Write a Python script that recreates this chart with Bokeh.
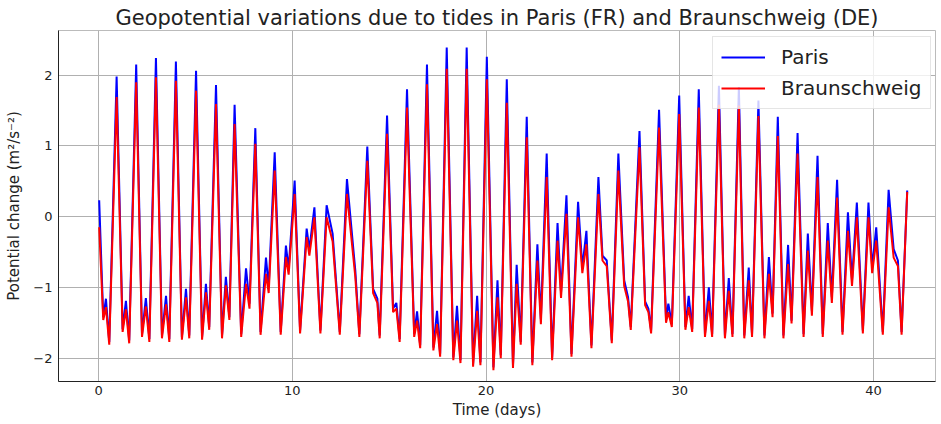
from bokeh.plotting import figure
from bokeh.models import Range1d, FixedTicker, Legend, LegendItem
from bokeh.embed import file_html
from bokeh.resources import INLINE

# ---- data (extremes and shoulders of the tidal curves) ----
time_days = [
    0.03, 0.24, 0.38, 0.55, 0.93, 1.24, 1.41, 1.58, 1.94, 2.24, 2.44, 2.62, 2.96, 3.27, 3.48, 3.65,
    3.99, 4.30, 4.51, 4.68, 5.03, 5.34, 5.54, 5.71, 6.06, 6.37, 6.57, 6.75,
    7.02, 7.36, 7.61, 7.79, 8.09, 8.36, 8.64, 8.78, 9.09, 9.40, 9.67, 9.81, 10.12, 10.40, 10.74, 10.88,
    11.14, 11.45, 11.77, 12.08, 12.45, 12.82, 13.25, 13.46,
    13.87, 14.17, 14.39, 14.51, 14.89, 15.20, 15.37, 15.54, 15.92, 16.29, 16.44, 16.60, 16.95, 17.28,
    17.47, 17.63, 17.97, 18.31, 18.50, 18.68, 19.00, 19.33, 19.54, 19.71, 20.04, 20.38, 20.59, 20.76,
    21.07, 21.39, 21.58, 21.79, 22.10, 22.39, 22.65, 22.83, 23.13, 23.41, 23.69, 23.87, 24.15, 24.41,
    24.75, 24.97, 25.18, 25.44, 25.80, 26.01, 26.23, 26.49, 26.83, 27.13, 27.33, 27.47,
    27.92, 28.21, 28.38, 28.52, 28.93, 29.29, 29.41, 29.59, 29.97, 30.29, 30.46, 30.64, 30.98, 31.30,
    31.50, 31.67, 32.02, 32.33, 32.53, 32.72, 33.05, 33.33, 33.56, 33.73, 34.06, 34.37, 34.60, 34.79,
    35.06, 35.35, 35.59, 35.77, 36.08, 36.39, 36.61, 36.82, 37.11, 37.38, 37.64, 37.85, 38.12, 38.40,
    38.68, 38.89, 39.14, 39.45, 39.74, 39.93, 40.14, 40.48, 40.78, 41.04, 41.26, 41.45, 41.74,
]

paris = [
    0.23, -1.42, -1.16, -1.77, 1.98, -1.59, -1.19, -1.75, 2.15, -1.66, -1.15, -1.73, 2.24, -1.68, -1.12, -1.73,
    2.19, -1.70, -1.02, -1.68, 2.06, -1.70, -0.95, -1.56, 1.86, -1.68, -0.85, -1.42,
    1.58, -1.66, -0.73, -1.23, 1.25, -1.63, -0.58, -1.00, 0.91, -1.63, -0.41, -0.74, 0.51, -1.61, -0.17, -0.46,
    0.13, -1.61, 0.16, -0.24, -1.63, 0.53, -0.76, -1.66,
    0.99, -1.02, -1.16, -1.68, 1.43, -1.30, -1.22, -1.73, 1.80, -1.66, -1.34, -1.82, 2.15, -1.85,
    -1.33, -1.94, 2.39, -1.99, -1.26, -2.03, 2.39, -2.08, -1.12, -2.06, 2.26, -2.13, -0.90, -1.96,
    1.94, -2.10, -0.68, -1.77, 1.41, -2.06, -0.39, -1.45, 0.89, -1.99, -0.09, -1.07, 0.30, -1.94,
    0.21, -0.72, -0.20, -1.82, 0.56, -0.55, -0.62, -1.75, 0.89, -0.90, -1.14, -1.56,
    1.21, -1.20, -1.30, -1.61, 1.51, -1.45, -1.23, -1.52, 1.71, -1.56, -1.12, -1.59, 1.80, -1.66,
    -1.00, -1.66, 1.85, -1.68, -0.87, -1.66, 1.83, -1.68, -0.72, -1.66, 1.64, -1.68, -0.57, -1.37,
    1.41, -1.68, -0.40, -1.47, 1.18, -1.66, -0.24, -1.33, 0.86, -1.66, -0.09, -1.14, 0.52, -1.63,
    0.06, -0.90, 0.20, -1.61, 0.20, -0.72, -0.15, -1.63, 0.38, -0.46, -0.62, -1.63, 0.37,
]

braunschweig = [
    -0.15, -1.46, -1.28, -1.81, 1.69, -1.63, -1.31, -1.79, 1.90, -1.70, -1.27, -1.77, 1.97, -1.72, -1.24, -1.77,
    1.92, -1.74, -1.14, -1.72, 1.78, -1.74, -1.07, -1.60, 1.59, -1.72, -0.97, -1.46,
    1.31, -1.70, -0.95, -1.30, 1.03, -1.67, -0.81, -1.08, 0.65, -1.67, -0.57, -0.82, 0.32, -1.65, -0.29, -0.55,
    -0.01, -1.65, -0.01, -0.35, -1.67, 0.32, -0.85, -1.70,
    0.79, -1.08, -1.22, -1.72, 1.17, -1.35, -1.30, -1.77, 1.54, -1.70, -1.47, -1.86, 1.87, -1.89,
    -1.52, -1.98, 2.09, -2.03, -1.47, -2.07, 2.09, -2.12, -1.33, -2.10, 1.94, -2.17, -1.14, -2.00,
    1.61, -2.14, -0.95, -1.81, 1.12, -2.10, -0.62, -1.52, 0.56, -2.03, -0.34, -1.15, 0.04, -1.98,
    -0.01, -0.80, -0.39, -1.86, 0.32, -0.62, -0.70, -1.79, 0.65, -0.98, -1.20, -1.60,
    0.98, -1.25, -1.35, -1.65, 1.26, -1.50, -1.35, -1.56, 1.45, -1.60, -1.28, -1.63, 1.54, -1.70,
    -1.19, -1.70, 1.58, -1.72, -1.05, -1.70, 1.57, -1.72, -0.90, -1.70, 1.42, -1.72, -0.81, -1.42,
    1.14, -1.72, -0.67, -1.51, 0.89, -1.70, -0.48, -1.40, 0.56, -1.70, -0.34, -1.22, 0.27, -1.67,
    -0.20, -0.98, -0.01, -1.65, -0.01, -0.80, -0.34, -1.67, 0.13, -0.58, -0.70, -1.67, 0.35,
]

x_ticks = [0, 10, 20, 30, 40]
y_ticks = [-2, -1, 0, 1, 2]
y_tick_labels = {-2: "\u22122", -1: "\u22121", 0: "0", 1: "1", 2: "2"}

title_text = "Geopotential variations due to tides in Paris (FR) and Braunschweig (DE)"
x_label = "Time (days)"
y_label = "Potential change (m\u00b2/s\u207b\u00b2)"

FONT = "DejaVu Sans"

p = figure(
    width=941, height=424,
    output_backend="svg", toolbar_location=None,
    x_range=Range1d(-2.07, 43.2), y_range=Range1d(-2.33, 2.63),
    min_border_left=58, min_border_right=6, min_border_top=30, min_border_bottom=43,
)

p.title.text = title_text
p.title.align = "center"
p.title.text_font = FONT
p.title.text_font_size = "21px"
p.title.text_font_style = "normal"
p.title.text_color = "#222222"
p.title.standoff = 2

p.background_fill_color = "white"
p.border_fill_color = "white"
p.outline_line_color = "#bbbbbb"
p.outline_line_width = 1

for ax in (p.xaxis[0], p.yaxis[0]):
    ax.axis_line_color = "#222222"
    ax.axis_line_width = 1
    ax.major_tick_in = 0
    ax.major_tick_out = 0
    ax.minor_tick_line_color = None
    ax.major_label_text_font = FONT
    ax.major_label_text_font_size = "13px"
    ax.major_label_text_color = "#222222"
    ax.axis_label_text_font = FONT
    ax.axis_label_text_font_size = "15px"
    ax.axis_label_text_font_style = "normal"
    ax.axis_label_text_color = "#222222"

p.xaxis.ticker = FixedTicker(ticks=x_ticks)
p.yaxis.ticker = FixedTicker(ticks=y_ticks)
p.yaxis.major_label_overrides = y_tick_labels
p.xaxis.axis_label = x_label
p.yaxis.axis_label = y_label
p.xaxis.major_label_standoff = 4
p.xaxis.axis_label_standoff = 3
p.yaxis.major_label_standoff = 6
p.yaxis.axis_label_standoff = 7

p.xgrid.ticker = FixedTicker(ticks=x_ticks)
p.ygrid.ticker = FixedTicker(ticks=y_ticks)
p.grid.grid_line_color = "#b0b0b0"
p.grid.grid_line_width = 1

r_paris = p.line(time_days, paris, line_color="#0000ff", line_width=2)
r_bs = p.line(time_days, braunschweig, line_color="#ff0000", line_width=2)

legend = Legend(
    items=[LegendItem(label="Paris", renderers=[r_paris]),
           LegendItem(label="Braunschweig", renderers=[r_bs])],
    location="top_right",
)
legend.margin = 0
legend.location = (654, 272)
legend.label_text_font = FONT
legend.label_text_font_size = "20px"
legend.label_text_color = "#222222"
legend.glyph_width = 44
legend.glyph_height = 24
legend.label_height = 24
legend.label_standoff = 16
legend.spacing = 7
legend.padding = 8
legend.background_fill_alpha = 0.8
legend.border_line_color = "#cccccc"
legend.border_line_width = 1
p.add_layout(legend)

open("out.html", "w").write(file_html(p, INLINE))
